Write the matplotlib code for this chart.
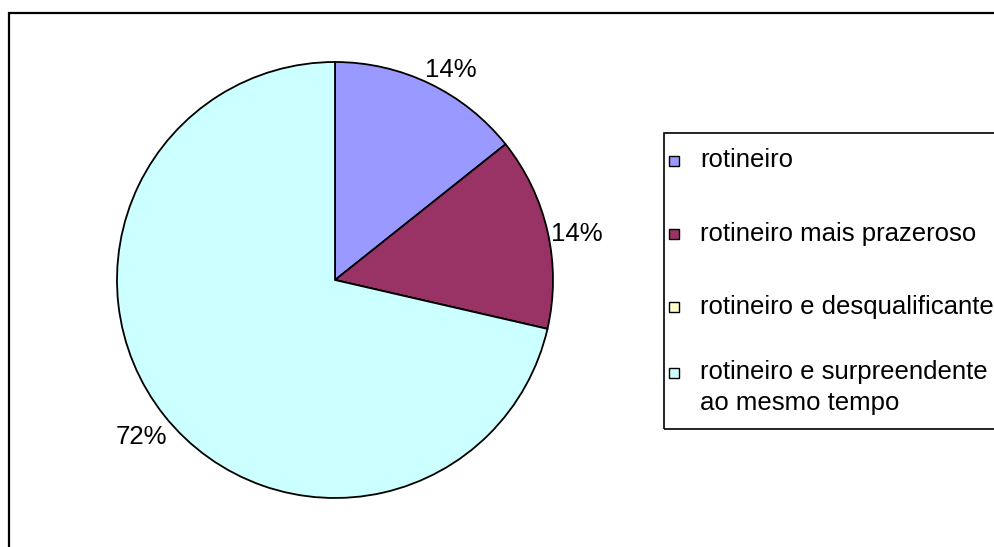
import matplotlib
matplotlib.use("Agg")
import matplotlib.pyplot as plt
from matplotlib.patches import Rectangle
from matplotlib.transforms import offset_copy

categories = ["rotineiro", "rotineiro mais prazeroso", "rotineiro e desqualificante",
              "rotineiro e surpreendente\nao mesmo tempo"]
values = [14.3, 14.3, 0.0, 71.4]
pct_labels = ["14%", "14%", "", "72%"]
colors = ["#9999FF", "#993366", "#FFFFCC", "#CCFFFF"]

plt.rcParams['font.family'] = ['Liberation Sans', 'DejaVu Sans']
W, H = 995, 547
fig = plt.figure(figsize=(W / 100, H / 100), dpi=100)

def fx(px):
    return px / W

def fy(py):
    return 1 - py / H

FS = 18.5

# outer frame
fig.patches.append(Rectangle((fx(8.5), fy(1000)), fx(1200), fy(12.5) - fy(1000),
                             transform=fig.transFigure, fill=False, ec="black", lw=1.6))

cx, cy, r = 335, 280, 218
ax = fig.add_axes([fx(cx - r), fy(cy + r), fx(2 * r), (2 * r) / H])
it = iter(pct_labels)
wedges, texts, autotexts = ax.pie(values, colors=colors, startangle=90, counterclock=False,
                                  wedgeprops=dict(edgecolor="black", linewidth=1.3),
                                  autopct=lambda p: next(it), pctdistance=1.13,
                                  textprops=dict(fontsize=FS, color="black"))
# small best-fit style nudges of the percentage labels (pixels)
nudges = [(9, -12), (2, -8), (0, 0), (-1, -4)]
for t, (dx, dy) in zip(autotexts, nudges):
    t.set_transform(offset_copy(ax.transData, fig=fig, x=dx, y=dy, units="dots"))
ax.set_xlim(-1, 1)
ax.set_ylim(-1, 1)
ax.set_aspect("equal")
ax.axis("off")

# legend
lx0, ly0, ly1 = 664.5, 133.5, 429
fig.patches.append(Rectangle((fx(lx0), fy(ly1)), fx(1200), fy(ly0) - fy(ly1),
                             transform=fig.transFigure, fill=False, ec="black", lw=1.2))
row_y = [160.5, 234, 307, 373]
line_gap = 30
for cat, col, yy in zip(categories, colors, row_y):
    fig.patches.append(Rectangle((fx(669.5), fy(yy + 5)), fx(10), 10 / H,
                                 transform=fig.transFigure, fc=col, ec="black", lw=1.0))
    n = cat.count("\n")
    fig.text(fx(700), fy(yy + 7 + line_gap * n), cat, fontsize=FS, va="baseline", ha="left",
             linespacing=1.36)

fig.savefig("out.png", dpi=100)
